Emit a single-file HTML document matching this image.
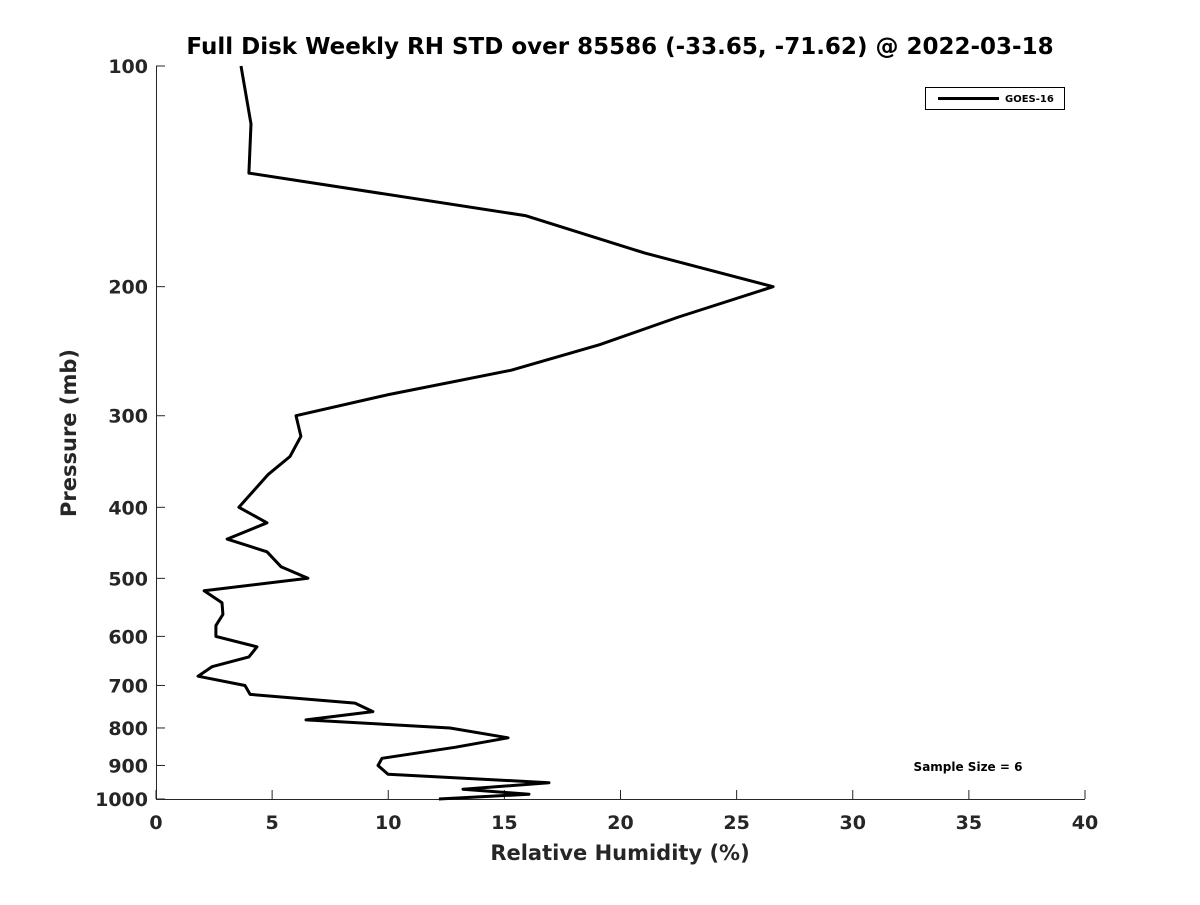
<!DOCTYPE html>
<html><head><meta charset="utf-8"><style>
body{margin:0;background:#fff}
text{font-family:"DejaVu Sans","Liberation Sans",sans-serif;font-weight:bold;fill:#262626}
</style></head><body>
<svg id="chart" width="1200" height="900" xmlns="http://www.w3.org/2000/svg">
<rect width="1200" height="900" fill="#fff"/>
<text x="620" y="54" text-anchor="middle" font-size="23" style="fill:#000">Full Disk Weekly RH STD over 85586 (-33.65, -71.62) @ 2022-03-18</text>
<g id="axes"></g>
<path id="series" fill="none" stroke="#000" stroke-width="3" stroke-linejoin="round"/>
<g>
<rect x="925.5" y="87.5" width="139" height="22" fill="#fff" stroke="#000" stroke-width="1"/>
<line x1="938" y1="98.5" x2="999" y2="98.5" stroke="#000" stroke-width="3"/>
<text x="1005" y="102" font-size="10" style="fill:#000">GOES-16</text>
</g>
<text x="968" y="771" text-anchor="middle" font-size="12" style="fill:#000">Sample Size = 6</text>
<text x="620" y="860" text-anchor="middle" font-size="21">Relative Humidity (%)</text>
<text transform="translate(76,433) rotate(-90)" text-anchor="middle" font-size="21">Pressure (mb)</text>
</svg>
<script>
const rhValues=[3.66,4.09,4.0,15.9,21.05,26.57,22.5,19.1,15.3,9.95,6.03,6.24,5.77,4.82,3.57,4.78,3.06,4.78,5.38,6.54,2.07,2.84,2.88,2.58,2.58,4.35,4.0,2.41,1.81,3.83,4.05,8.57,9.34,6.46,12.66,15.16,12.87,9.73,9.56,9.99,16.92,13.22,16.06,12.18];
const pressures=[100,120,140,160,180,200,220,240,260,281,300,320,341,361,400,420,442,460,482,500,520,540,560,580,600,620,640,660,680,700,720,740,760,780,800,825,850,880,900,925,950,970,985,1000];
const xTicks=[0,5,10,15,20,25,30,35,40];
const yTicks=[100,200,300,400,500,600,700,800,900,1000];
const X0=156,X1=1085,Y0=66,Y1=799;
const xs=v=>X0+(v-0)/(40-0)*(X1-X0);
const ys=p=>Y0+(Math.log10(p)-2)*(Y1-Y0);
const NS="http://www.w3.org/2000/svg";
const ax=document.getElementById('axes');
function mk(t,a){const e=document.createElementNS(NS,t);for(const k in a)e.setAttribute(k,a[k]);ax.appendChild(e);return e;}
let e=mk('line',{x1:X0,y1:Y1+0.5,x2:X1,y2:Y1+0.5,stroke:'#262626','stroke-width':1});


e=mk('line',{x1:X0+0.5,y1:Y0,x2:X0+0.5,y2:Y1,stroke:'#262626','stroke-width':1});


xTicks.forEach(v=>{const x=xs(v);
mk('line',{x1:x,y1:Y1,x2:x,y2:Y1-9,stroke:'#262626'});
const t=mk('text',{x:x,y:829,'text-anchor':'middle','font-size':19});t.textContent=v;

});
yTicks.forEach(p=>{const y=ys(p);
mk('line',{x1:X0,y1:y,x2:X0+9,y2:y,stroke:'#262626'});
const t=mk('text',{x:148,y:y+7,'text-anchor':'end','font-size':19});t.textContent=p;

});
document.getElementById('series').setAttribute('d',rhValues.map((v,i)=>(i?'L':'M')+xs(v).toFixed(1)+','+ys(pressures[i]).toFixed(1)).join(''));
</script>
</body></html>
